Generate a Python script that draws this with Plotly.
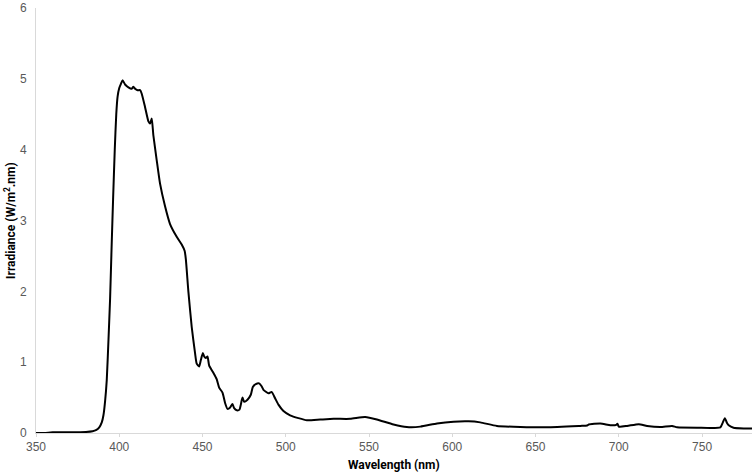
import plotly.graph_objects as go

wavelength = [350, 355, 360, 370, 380, 384, 386, 388, 389.5, 390.5, 391.5, 392.5, 393.5, 394.5, 395.5, 396.3,
              397.3, 398.2, 399, 400, 401, 402, 403.5, 405.5, 407.5, 408.5, 409.5, 411, 412.5, 413.5, 415.5,
              417.5, 418.5, 419.5, 420.5, 422.5, 424.5, 427.5, 430.5, 434.5, 437.5, 439.3, 440, 441.5, 443.5,
              445.5, 446.5, 448, 449, 450.2, 451, 452, 453, 454, 456.5, 458.5, 460, 462, 463.6, 465, 466.6,
              468, 469, 470.6, 472.2, 473, 474, 475, 477, 479, 480.2, 482, 484, 485.5, 486.6, 489.6, 491.5,
              493.6, 495.6, 498.6, 502.6, 507.6, 512.7, 520.7, 528.7, 538.7, 547.7, 554.7, 564.7, 572.7,
              580.8, 590.8, 600.8, 609.8, 616.8, 626.8, 640.9, 656.9, 676.9, 681, 682, 688.9, 695, 698.5,
              699.2, 700, 705, 712, 717, 725, 732, 735, 747, 761, 762.5, 763.7, 765, 766, 768.9, 775, 780]
irradiance = [0.0, 0.0, 0.01, 0.01, 0.015, 0.025, 0.04, 0.08, 0.15, 0.25, 0.45, 0.75, 1.3, 1.9, 2.7, 3.3,
              4.0, 4.5, 4.75, 4.87, 4.93, 4.98, 4.92, 4.88, 4.86, 4.89, 4.86, 4.84, 4.84, 4.79, 4.6,
              4.4, 4.37, 4.44, 4.2, 3.85, 3.52, 3.2, 2.95, 2.77, 2.66, 2.57, 2.45, 2.0, 1.5,
              1.13, 0.98, 0.94, 1.03, 1.13, 1.08, 1.06, 1.08, 0.95, 0.85, 0.76, 0.64, 0.57, 0.42, 0.34, 0.36,
              0.41, 0.35, 0.32, 0.33, 0.4, 0.5, 0.44, 0.47, 0.54, 0.65, 0.69, 0.7, 0.66, 0.61, 0.56, 0.58,
              0.49, 0.4, 0.31, 0.25, 0.21, 0.18, 0.19, 0.2, 0.2, 0.225, 0.19, 0.12, 0.085,
              0.09, 0.135, 0.16, 0.165, 0.15, 0.1, 0.085, 0.08, 0.1, 0.105, 0.12, 0.135, 0.11, 0.115,
              0.13, 0.09, 0.1, 0.125, 0.1, 0.085, 0.1, 0.08, 0.075, 0.08, 0.15, 0.21, 0.14, 0.11, 0.075, 0.065, 0.065]

x_ticks = [350, 400, 450, 500, 550, 600, 650, 700, 750]
y_ticks = [0, 1, 2, 3, 4, 5, 6]

fig = go.Figure()
fig.add_trace(go.Scatter(
    x=wavelength, y=irradiance, mode="lines",
    line=dict(color="black", width=2, shape="spline", smoothing=0.5),
    showlegend=False, hoverinfo="skip",
))

tick_font = dict(family="Liberation Sans, Arial, sans-serif", size=12, color="#595959")
title_font = dict(family="Roboto, Open Sans, sans-serif", size=12, color="black", weight="bold")

fig.update_layout(
    width=754, height=474,
    margin=dict(l=36, r=2, t=8, b=41),
    paper_bgcolor="white", plot_bgcolor="white",
    xaxis=dict(
        range=[350, 780], tickvals=x_ticks, ticktext=[str(v) for v in x_ticks],
        showgrid=False, zeroline=False, showline=True, linecolor="#d9d9d9", linewidth=1,
        ticks="outside", ticklen=3, tickcolor="#d9d9d9", tickwidth=1,
        tickfont=tick_font, automargin=False, ticklabelstandoff=0,
    ),
    yaxis=dict(
        range=[0, 6], tickvals=y_ticks, ticktext=[str(v) for v in y_ticks],
        showgrid=False, zeroline=False, showline=True, linecolor="#d9d9d9", linewidth=1,
        ticks="", tickfont=tick_font, automargin=False, ticklabelstandoff=6,
    ),
    annotations=[
        dict(text="Wavelength (nm)", xref="paper", yref="paper", x=0.5, y=-0.075,
             xanchor="center", yanchor="middle", showarrow=False, font=title_font),
        dict(text="Irradiance (W/m<sup>2</sup>.nm)", xref="paper", yref="paper", x=-0.037, y=0.5,
             xanchor="center", yanchor="middle", showarrow=False, textangle=-90, font=title_font),
    ],
)

fig.write_html("out.html", config={"displayModeBar": False},
               post_script="document.body.style.margin='0';document.body.style.padding='0';")
